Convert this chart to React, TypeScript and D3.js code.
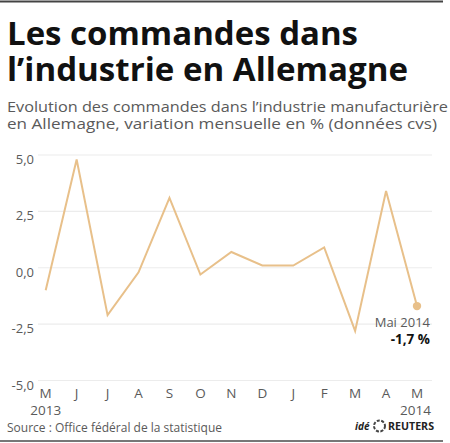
import React from "react";
import * as d3 from "d3";

const months = ["M", "J", "J", "A", "S", "O", "N", "D", "J", "F", "M", "A", "M"];
const values = [-1.0, 4.8, -2.1, -0.2, 3.1, -0.3, 0.7, 0.1, 0.1, 0.9, -2.8, 3.4, -1.7];
const yTicks = [5, 2.5, 0, -2.5, -5];
const yTickLabels = ["5,0", "2,5", "0,0", "-2,5", "-5,0"];
const titleLines = ["Les commandes dans", "l\u2019industrie en Allemagne"];
const subtitleLines = [
  "Evolution des commandes dans l\u2019industrie manufacturi\u00e8re",
  "en Allemagne, variation mensuelle en % (donn\u00e9es cvs)",
];
const yearStart = "2013";
const yearEnd = "2014";
const lastLabel = "Mai 2014";
const lastValue = "-1,7 %";
const source = "Source : Office f\u00e9d\u00e9ral de la statistique";
const logoPrefix = "id\u00e9";
const logoName = "REUTERS";

const W = 450;
const H = 443;
const font = "'Open Sans', 'DejaVu Sans', sans-serif";
const lineColor = "#e8c08a";
const textGray = "#5a5a5a";

export default function App() {
  const x = d3
    .scalePoint<number>()
    .domain(d3.range(months.length))
    .range([45.7, 417]);
  const y = d3.scaleLinear().domain([-5, 5]).range([380.5, 155]);
  const line = d3
    .line<number>()
    .x((_, i) => x(i) as number)
    .y((d) => y(d));
  const lastI = values.length - 1;

  return (
    <svg
      width={W}
      height={H}
      style={{ position: "absolute", left: 0, top: 0, background: "#fff" }}
    >
      <rect x={0} y={0} width={W} height={H} fill="#fff" />
      <line x1={0} x2={443} y1={1.5} y2={1.5} stroke="#444" strokeWidth={2} />
      {titleLines.map((t, i) => (
        <text
          key={t}
          x={7}
          y={44.5 + i * 36.5}
          fontFamily={font}
          fontWeight={700}
          fontSize={33}
          fill="#111"
          textLength={i === 0 ? 351 : 401}
          lengthAdjust="spacingAndGlyphs"
        >
          {t}
        </text>
      ))}
      {subtitleLines.map((t, i) => (
        <text
          key={t}
          x={7}
          y={112 + i * 17}
          fontFamily={font}
          fontSize={14.5}
          fill={textGray}
          textLength={i === 0 ? 441 : 430}
          lengthAdjust="spacingAndGlyphs"
        >
          {t}
        </text>
      ))}
      {yTicks.map((v, i) => (
        <g key={v}>
          <line
            x1={38}
            x2={432}
            y1={y(v)}
            y2={y(v)}
            stroke="#ececec"
            strokeWidth={1.2}
          />
          <text
            x={34}
            y={y(v) + 9}
            textAnchor="end"
            fontFamily={font}
            fontSize={13}
            fill={textGray}
          >
            {yTickLabels[i]}
          </text>
        </g>
      ))}
      <path
        d={line(values) || ""}
        fill="none"
        stroke={lineColor}
        strokeWidth={2}
        strokeLinejoin="miter"
      />
      <circle cx={x(lastI)} cy={y(values[lastI])} r={4.2} fill={lineColor} />
      <text
        x={430}
        y={327}
        textAnchor="end"
        fontFamily={font}
        fontSize={13}
        fill={textGray}
      >
        {lastLabel}
      </text>
      <text
        x={430}
        y={344}
        textAnchor="end"
        fontFamily={font}
        fontSize={13.5}
        fontWeight={700}
        fill="#111"
      >
        {lastValue}
      </text>
      {months.map((m, i) => (
        <text
          key={i}
          x={x(i)}
          y={398}
          textAnchor="middle"
          fontFamily={font}
          fontSize={13.5}
          fill={textGray}
        >
          {m}
        </text>
      ))}
      <text
        x={x(0)}
        y={415}
        textAnchor="middle"
        fontFamily={font}
        fontSize={13.5}
        fill={textGray}
      >
        {yearStart}
      </text>
      <text
        x={431}
        y={415}
        textAnchor="end"
        fontFamily={font}
        fontSize={13.5}
        fill={textGray}
      >
        {yearEnd}
      </text>
      <text
        x={7}
        y={432}
        fontFamily={font}
        fontSize={13.5}
        fill={textGray}
        textLength={215}
        lengthAdjust="spacingAndGlyphs"
      >
        {source}
      </text>
      <text
        x={355}
        y={430}
        fontFamily={font}
        fontSize={10}
        fontWeight={700}
        fontStyle="italic"
        fill="#222"
      >
        {logoPrefix}
      </text>
      <circle
        cx={379.5}
        cy={426}
        r={5.5}
        fill="none"
        stroke="#444"
        strokeWidth={2}
        strokeDasharray="3 1.5"
      />
      <text
        x={388}
        y={430}
        fontFamily={font}
        fontSize={11}
        fontWeight={700}
        fill="#222"
        textLength={46}
        lengthAdjust="spacingAndGlyphs"
      >
        {logoName}
      </text>
      <line x1={0} x2={443} y1={441} y2={441} stroke="#777" strokeWidth={2} />
    </svg>
  );
}
